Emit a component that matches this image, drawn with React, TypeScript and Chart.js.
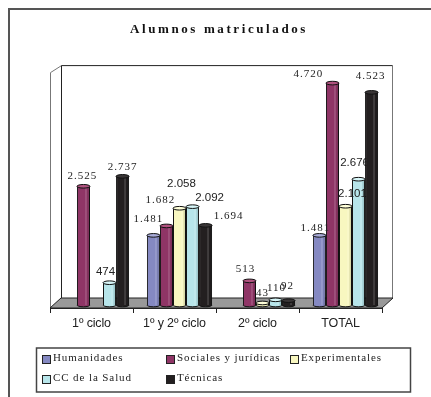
import React, { useEffect, useRef } from "react";
import { Chart, registerables } from "chart.js";

Chart.register(...registerables);

const categories = ["1º ciclo", "1º y 2º ciclo", "2º ciclo", "TOTAL"];
const humanidades = [null, 1481, null, 1481];
const sociales = [2525, 1682, 513, 4720];
const experimentales = [null, 2058, 43, 2101];
const salud = [474, 2092, 110, 2676];
const tecnicas = [2737, 1694, 92, 4523];
const seriesNames = ["Humanidades", "Sociales y jurídicas", "Experimentales", "CC de la Salud", "Técnicas"];
const seriesValues = [humanidades, sociales, experimentales, salud, tecnicas];

const fills = ["#8589C2", "#8F3566", "#F8F7C0", "#B7E5EA", "#231F20"];
const caps = ["#A9ACDA", "#B0527F", "#FFFFD8", "#D6F5F7", "#3A3637"];

// label nudges [dx, dy] from the top of each bar (style only)
const nudges: (number[] | null)[][] = [
  [null, [-5, -16], null, [-4, -7]],
  [[-1, -10], [-6, -26], [-4, -12], [-24, -9]],
  [null, [2, -24], [0, -10], [7, -12]],
  [[-4, -11], [17, -9], [1, -12], [-4, -16]],
  [[0, -9], [23, -9], [-1, -15], [-1, -16]],
];
const sansLabels = [
  [false, false, false, false],
  [false, false, false, false],
  [false, true, false, true],
  [true, true, false, true],
  [false, false, false, false],
];

const legendCols = [42, 166, 290];
const legendRows = [355, 375];
const SERIF = '"Liberation Serif"';
const SANS = '"Liberation Sans"';
const fmt = (v: number) => String(v).replace(/\B(?=(\d{3})+$)/g, ".");

const scene = {
  id: "scene",
  afterLayout(chart: any) {
    chart.titleBlock.left += 3;
    chart.titleBlock.right += 3;
  },
  beforeDraw(chart: any) {
    const { ctx, width, height, chartArea: a } = chart;
    ctx.save();
    ctx.fillStyle = "#fff";
    ctx.fillRect(0, 0, width, height);
    ctx.strokeStyle = "#555";
    ctx.lineWidth = 2;
    ctx.strokeRect(9, 9, width + 20, height + 20);

    const d = 11, up = 10, top = a.top;
    const b = a.bottom, l = a.left, r = a.right;
    // side wall
    ctx.lineWidth = 1;
    ctx.strokeStyle = "#777";
    ctx.beginPath();
    ctx.moveTo(l + 0.5, b);
    ctx.lineTo(l + 0.5, top + 7.5);
    ctx.lineTo(l + d + 0.5, top + 0.5);
    ctx.stroke();
    // back wall
    ctx.beginPath();
    ctx.moveTo(r + d - 0.5, top + 0.5);
    ctx.lineTo(r + d - 0.5, b - up);
    ctx.stroke();
    ctx.strokeStyle = "#222";
    ctx.beginPath();
    ctx.moveTo(l + d + 0.5, b - up);
    ctx.lineTo(l + d + 0.5, top + 0.5);
    ctx.lineTo(r + d - 0.5, top + 0.5);
    ctx.stroke();
    // floor
    ctx.fillStyle = "#999";
    ctx.beginPath();
    ctx.moveTo(l, b);
    ctx.lineTo(l + d, b - up);
    ctx.lineTo(r + d, b - up);
    ctx.lineTo(r, b);
    ctx.closePath();
    ctx.fill();
    ctx.strokeStyle = "#222";
    ctx.stroke();
    // legend frame
    ctx.fillStyle = "#fff";
    ctx.strokeStyle = "#444";
    ctx.lineWidth = 1.5;
    ctx.fillRect(36.5, 348, 374, 44);
    ctx.strokeRect(36.5, 348, 374, 44);
    ctx.restore();
    ctx.letterSpacing = "2.6px";
  },
  beforeDatasetDraw() {
    return false;
  },
  afterDatasetsDraw(chart: any) {
    const { ctx } = chart;
    ctx.letterSpacing = "0px";
    ctx.save();
    ctx.translate(5, 0);
    const drawLabels = (i: number) => {
      const meta = chart.getDatasetMeta(i);
      ctx.fillStyle = "#222";
      ctx.textAlign = "center";
      ctx.textBaseline = "middle";
      meta.data.forEach((el: any, j: number) => {
        const v = seriesValues[i][j];
        const n = nudges[i][j];
        if (v == null || !n) return;
        const sans = sansLabels[i][j];
        ctx.font = sans ? `11.5px ${SANS}` : `11px ${SERIF}`;
        ctx.letterSpacing = sans ? "0px" : "1px";
        ctx.fillText(fmt(v), el.x + n[0], el.y + n[1]);
        ctx.letterSpacing = "0px";
      });
    };
    seriesValues.forEach((_, i) => {
      const meta = chart.getDatasetMeta(i);
      meta.data.forEach((el: any, j: number) => {
        if (seriesValues[i][j] == null) return;
        const w = el.width, base = el.base, top = el.y;
        ctx.strokeStyle = "#111";
        ctx.lineWidth = 1;
        ctx.fillStyle = fills[i];
        ctx.beginPath();
        ctx.ellipse(el.x, base, w / 2, 1.8, 0, 0, Math.PI);
        ctx.fill();
        ctx.stroke();
        el.draw(ctx);
        // cylinder shading
        ctx.fillStyle = "rgba(255,255,255,0.14)";
        ctx.fillRect(el.x + w * 0.12, top, w * 0.14, base - top);
        ctx.fillStyle = "rgba(0,0,0,0.12)";
        ctx.fillRect(el.x + w * 0.3, top, w * 0.2, base - top);
        ctx.fillStyle = caps[i];
        ctx.beginPath();
        ctx.ellipse(el.x, top, w / 2, 1.8, 0, 0, Math.PI * 2);
        ctx.fill();
        ctx.stroke();
      });
      if (i === 3) [0, 1, 2, 3].forEach(drawLabels);
      if (i === 4) drawLabels(4);
    });
    ctx.restore();

    // legend
    ctx.save();
    ctx.textBaseline = "middle";
    ctx.textAlign = "left";
    ctx.font = `11px ${SERIF}`;
    ctx.letterSpacing = "0.9px";
    seriesNames.forEach((name, i) => {
      const x = legendCols[i % 3];
      const y = legendRows[Math.floor(i / 3)];
      ctx.fillStyle = fills[i];
      ctx.strokeStyle = "#222";
      ctx.lineWidth = 1;
      ctx.fillRect(x + 0.5, y + 0.5, 8, 8);
      ctx.strokeRect(x + 0.5, y + 0.5, 8, 8);
      ctx.fillStyle = "#222";
      ctx.fillText(name, x + 11, y + 3.5);
    });
    ctx.restore();
    ctx.letterSpacing = "-0.15px";
  },
};

export default function App() {
  const ref = useRef<HTMLCanvasElement>(null);
  useEffect(() => {
    const chart = new Chart(ref.current as HTMLCanvasElement, {
      type: "bar",
      data: {
        labels: categories,
        datasets: seriesNames.map((label, i) => ({
          label,
          data: seriesValues[i],
          backgroundColor: fills[i],
          borderColor: "#111",
          borderWidth: 1,
          barPercentage: 1,
          categoryPercentage: 0.785,
        })),
      } as any,
      options: {
        animation: false,
        responsive: false,
        layout: { padding: { left: 50, right: 49, top: 0, bottom: 0 } },
        plugins: {
          legend: { display: false },
          tooltip: { enabled: false },
          title: {
            display: true,
            text: "Alumnos matriculados",
            color: "#111",
            font: { family: SERIF, size: 13, weight: "bold" },
            padding: { top: 21.5, bottom: 28 },
          },
        },
        scales: {
          y: { display: false, min: -64, max: 5103 },
          x: {
            afterFit: (s: any) => {
              s.height = 89;
            },
            grid: { drawOnChartArea: false, color: "#222", tickLength: 5 },
            border: { color: "#222" },
            ticks: {
              z: 1,
              color: "#222",
              padding: 3,
              maxRotation: 0,
              font: { family: SANS, size: 12.5 },
            },
          },
        },
      } as any,
      plugins: [scene],
    });
    return () => chart.destroy();
  }, []);
  return (
    <canvas
      ref={ref}
      width={431}
      height={397}
      style={{ position: "absolute", left: 0, top: 0, display: "block" }}
    />
  );
}
